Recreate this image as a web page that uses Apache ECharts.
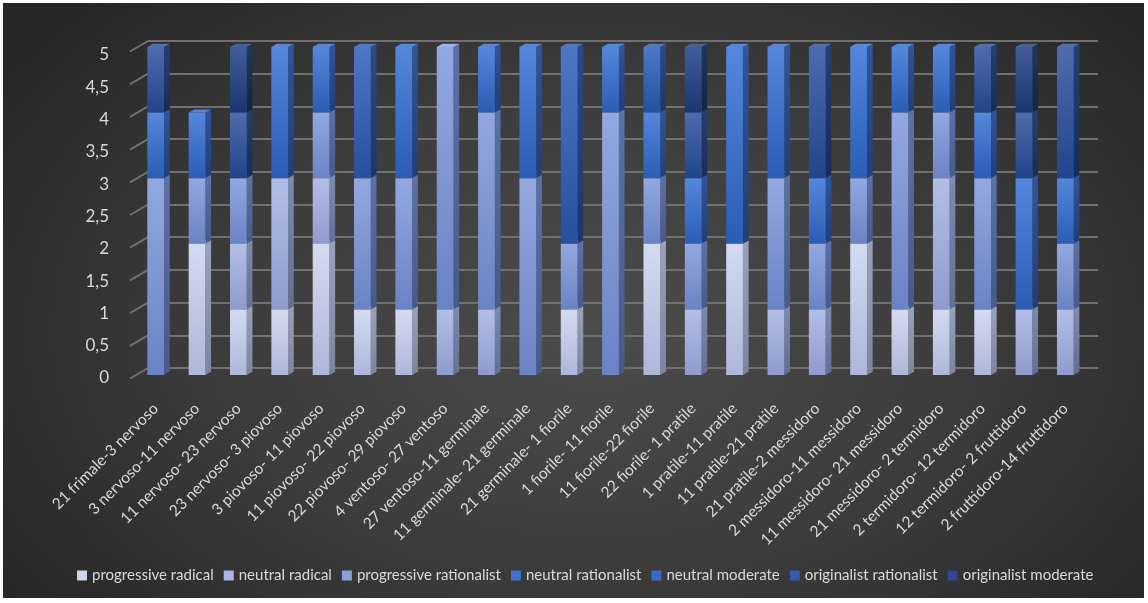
<!DOCTYPE html>
<html>
<head>
<meta charset="utf-8">
<script src="https://cdn.jsdelivr.net/npm/echarts@6/dist/echarts.min.js"></script>
<style>
  html, body { margin: 0; padding: 0; background: #ffffff; }
  #chart {
    position: absolute; left: 3px; top: 3px; width: 1141px; height: 595px;
    background: radial-gradient(ellipse 62% 78% at 52% 55%, #4c4c4c 0%, #3b3b3b 55%, #272727 100%);
  }
</style>
</head>
<body>
<div id="chart"></div>
<script>
// Periods of the revolutionary calendar
const categories = [
  '21 frimale-3 nervoso', '3 nervoso-11 nervoso', '11 nervoso- 23 nervoso', '23 nervoso- 3 piovoso',
  '3 piovoso- 11 piovoso', '11 piovoso- 22 piovoso', '22 piovoso- 29 piovoso', '4 ventoso- 27 ventoso',
  '27 ventoso-11 germinale', '11 germinale- 21 germinale', '21 germinale- 1 fiorile', '1 fiorile- 11 fiorile',
  '11 fiorile-22 fiorile', '22 fiorile- 1 pratile', '1 pratile-11 pratile', '11 pratile-21 pratile',
  '21 pratile-2 messidoro', '2 messidoro-11 messidoro', '11 messidoro- 21 messidoro', '21 messidoro- 2 termidoro',
  '2 termidoro- 12 termidoro', '12 termidoro- 2 fruttidoro', '2 fruttidoro-14 fruttidoro'
];

const seriesNames = [
  'progressive radical', 'neutral radical', 'progressive rationalist', 'neutral rationalist',
  'neutral moderate', 'originalist rationalist', 'originalist moderate'
];

const progressiveRadical     = [0, 2, 1, 1, 2, 1, 1, 0, 0, 0, 1, 0, 2, 0, 2, 0, 0, 2, 1, 1, 1, 0, 0];
const neutralRadical         = [0, 0, 1, 2, 1, 0, 0, 1, 1, 0, 0, 0, 0, 1, 0, 1, 1, 0, 0, 2, 0, 1, 1];
const progressiveRationalist = [3, 1, 1, 0, 1, 2, 2, 4, 3, 3, 1, 4, 1, 1, 0, 2, 1, 1, 3, 1, 2, 0, 1];
const neutralRationalist     = [1, 1, 0, 2, 1, 0, 2, 0, 1, 2, 0, 1, 1, 1, 3, 2, 1, 2, 1, 1, 1, 2, 1];
const neutralModerate        = [0, 0, 0, 0, 0, 2, 0, 0, 0, 0, 3, 0, 1, 0, 0, 0, 0, 0, 0, 0, 0, 0, 0];
const originalistRationalist = [1, 0, 1, 0, 0, 0, 0, 0, 0, 0, 0, 0, 0, 1, 0, 0, 2, 0, 0, 0, 1, 1, 2];
const originalistModerate    = [0, 0, 1, 0, 0, 0, 0, 0, 0, 0, 0, 0, 0, 1, 0, 0, 0, 0, 0, 0, 0, 1, 0];

const yTickLabels = ['0', '0,5', '1', '1,5', '2', '2,5', '3', '3,5', '4', '4,5', '5'];
const yTickValues = [0, 0.5, 1, 1.5, 2, 2.5, 3, 3.5, 4, 4.5, 5];

const allValues = [progressiveRadical, neutralRadical, progressiveRationalist, neutralRationalist,
  neutralModerate, originalistRationalist, originalistModerate];

// Shades for each series: legend swatch, front face (top→bottom), side face, top face
const shades = [
  { swatch: '#cdd4ee', front: ['#d4daf1', '#aeb7da'], side: ['#9aa1ba', '#7d849f'], top: '#dfe4f5' },
  { swatch: '#aab7e3', front: ['#b3bee8', '#8e9bcc'], side: ['#7f8aaf', '#646e93'], top: '#bec8ec' },
  { swatch: '#8aa0dc', front: ['#93a8e0', '#6a83c5'], side: ['#5d71a8', '#48598b'], top: '#a0b2e4' },
  { swatch: '#3f70d2', front: ['#5587dc', '#2c5db5'], side: ['#30569c', '#213e77'], top: '#5a85d2' },
  { swatch: '#3a69c8', front: ['#4e78c6', '#26509f'], side: ['#2a4a88', '#1c366a'], top: '#5578bd' },
  { swatch: '#385aa8', front: ['#4e6cad', '#21458b'], side: ['#283f73', '#172c57'], top: '#566fa6' },
  { swatch: '#2c4890', front: ['#415d99', '#1b3771'], side: ['#213761', '#132446'], top: '#4a6192' }
];

// cumulative bases for the stacked segments
const bases = [];
let running = categories.map(() => 0);
allValues.forEach(vals => {
  bases.push(running.slice());
  running = running.map((r, i) => r + vals[i]);
});

const DEPTH_X = 5.7, DEPTH_Y = -3.2;

function grad(c) {
  return new echarts.graphic.LinearGradient(0, 0, 0, 1, [
    { offset: 0, color: c[0] }, { offset: 1, color: c[1] }
  ]);
}

function columnSeries(k) {
  const vals = allValues[k];
  const sh = shades[k];
  return {
    type: 'custom',
    name: seriesNames[k],
    xAxisIndex: 1, yAxisIndex: 1,
    itemStyle: { color: sh.swatch },
    data: vals.map((v, i) => [i, bases[k][i], bases[k][i] + v]),
    renderItem: function (params, api) {
      const lo = api.value(1), hi = api.value(2);
      if (!(hi > lo)) return null;
      const pLo = api.coord([api.value(0), lo]);
      const pHi = api.coord([api.value(0), hi]);
      const band = api.size([1, 0])[0];
      const w = band * 0.405;
      const x0 = pLo[0] - w / 2, x1 = x0 + w;
      const yT = pHi[1], yB = pLo[1];
      return {
        type: 'group',
        children: [
          { type: 'polygon', shape: { points: [[x1, yT], [x1 + DEPTH_X, yT + DEPTH_Y], [x1 + DEPTH_X, yB + DEPTH_Y], [x1, yB]] },
            style: { fill: grad(sh.side) } },
          { type: 'polygon', shape: { points: [[x0, yT], [x0 + DEPTH_X, yT + DEPTH_Y], [x1 + DEPTH_X, yT + DEPTH_Y], [x1, yT]] },
            style: { fill: sh.top } },
          { type: 'rect', shape: { x: x0, y: yT, width: w, height: yB - yT },
            style: { fill: grad(sh.front) } }
        ]
      };
    }
  };
}

const gridColor = '#707070';
const textColor = '#d9d9d9';
const font = 'Lato, "Open Sans", sans-serif';

const chart = echarts.init(document.getElementById('chart'), null, { renderer: 'canvas' });

const option = {
  backgroundColor: 'transparent',
  animation: false,
  textStyle: { fontFamily: font },
  grid: [
    // 0: front edge of the floor, carries the value labels
    { left: 127, top: 52, width: 950, height: 323 },
    // 1: plane of the columns, carries the category labels
    { left: 132, top: 44, width: 951, height: 328 },
    // 2: back wall with the gridlines
    { left: 145, top: 38, width: 950, height: 327 }
  ],
  xAxis: [
    { type: 'category', gridIndex: 0, data: categories, show: false },
    { type: 'category', gridIndex: 1, data: categories,
      axisLine: { show: false }, axisTick: { show: false },
      axisLabel: { rotate: 45, margin: 31, interval: 0, color: textColor, fontSize: 15.5, fontFamily: font } },
    { type: 'value', gridIndex: 2, min: 0, max: 1, show: false }
  ],
  yAxis: [
    { type: 'value', gridIndex: 0, min: 0, max: 5, interval: 0.5,
      axisLine: { show: false }, axisTick: { show: false }, splitLine: { show: false },
      axisLabel: { margin: 21, color: textColor, fontSize: 17, fontFamily: font,
        formatter: v => yTickLabels[yTickValues.indexOf(v)] } },
    { type: 'value', gridIndex: 1, min: 0, max: 5, show: false, splitLine: { show: false } },
    { type: 'value', gridIndex: 2, min: 0, max: 5, interval: 0.5,
      axisLine: { show: false }, axisTick: { show: false }, axisLabel: { show: false },
      splitLine: { show: true, lineStyle: { color: gridColor, width: 2 } } }
  ],
  legend: {
    data: seriesNames,
    left: 69, top: 560,
    itemWidth: 10, itemHeight: 10, itemGap: 10,
    icon: 'rect',
    textStyle: { color: textColor, fontSize: 15, fontFamily: font }
  },
  series: [
    // slanted side-wall ticks joining each gridline to the front edge
    {
      type: 'custom', xAxisIndex: 2, yAxisIndex: 2, silent: true, z: 1,
      data: yTickValues.map(v => [0, v]),
      renderItem: function (params, api) {
        const p = api.coord([0, api.value(1)]);
        return { type: 'line', shape: { x1: p[0], y1: p[1], x2: p[0] - 18, y2: p[1] + 10.5 },
          style: { stroke: gridColor, lineWidth: 2 } };
      }
    },
    ...allValues.map((_, k) => columnSeries(k))
  ]
};

chart.setOption(option);
</script>
</body>
</html>
